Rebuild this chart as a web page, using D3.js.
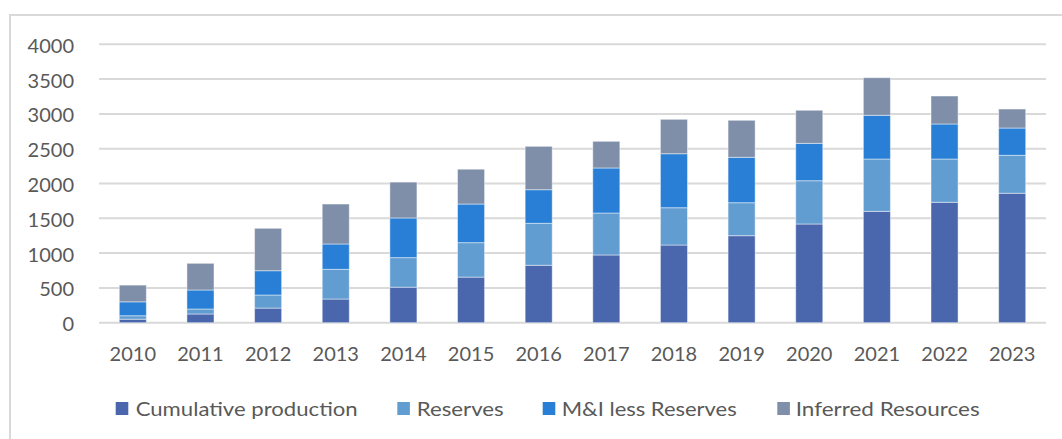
<!DOCTYPE html>
<html>
<head>
<meta charset="utf-8">
<script src="https://cdn.jsdelivr.net/npm/d3@7"></script>
<style>
  body { margin: 0; background: #fff; }
  svg { display: block; font-family: Lato, "Open Sans", sans-serif; }
</style>
</head>
<body>
<svg id="chart" width="1062" height="439"></svg>
<script>
// chart data
const years = ["2010", "2011", "2012", "2013", "2014", "2015", "2016", "2017", "2018", "2019", "2020", "2021", "2022", "2023"];
const cumulative = [50, 125, 210, 340, 510, 655, 825, 973, 1116, 1250, 1418, 1600, 1730, 1860];
const reserves = [50, 72, 188, 427, 425, 495, 603, 603, 536, 474, 622, 752, 622, 545];
const mniLess = [200, 273, 349, 364, 570, 555, 483, 647, 776, 652, 537, 628, 503, 392];
const inferred = [240, 383, 609, 574, 515, 500, 623, 383, 494, 532, 475, 540, 402, 273];
const seriesNames = ["Cumulative production", "Reserves", "M&I less Reserves", "Inferred Resources"];
const yTicks = [0, 500, 1000, 1500, 2000, 2500, 3000, 3500, 4000];

const colors = ["#4a66ac", "#629dd1", "#297fd5", "#7f8fa9"];

let svg = d3.select("#chart");

// outer chart border (only top/left visible in the crop)
svg.append("path")
    .attr("d", "M10,439 V15 H1062")
    .attr("fill", "none")
    .attr("stroke", "#d9d9d9")
    .attr("stroke-width", 2);

let x = d3.scaleBand().domain(years).range([99, 1046]).paddingInner(0.6).paddingOuter(0.3);
let y = d3.scaleLinear().domain([0, 4000]).range([322.7, 44.3]);

// gridlines
svg.append("g")
    .selectAll("line")
    .data(yTicks)
    .enter().append("line")
    .attr("x1", 99).attr("x2", 1046)
    .attr("y1", d => y(d)).attr("y2", d => y(d))
    .attr("stroke", "#d9d9d9")
    .attr("stroke-width", 2);

// y labels
let yAxis = svg.append("g")
    .attr("transform", "translate(74,1.5)")
    .call(d3.axisLeft(y).tickValues(yTicks).tickFormat(d3.format("d")).tickSize(0).tickPadding(0));
yAxis.select(".domain").remove();
yAxis.selectAll("text")
    .attr("fill", "#595959")
    .style("font-size", "20px")
    .style("font-family", "Lato, 'Open Sans', sans-serif");

// x labels
let xAxis = svg.append("g")
    .attr("transform", "translate(0,354)")
    .call(d3.axisBottom(x).tickSize(0).tickPadding(0));
xAxis.select(".domain").remove();
xAxis.selectAll("text")
    .attr("fill", "#595959")
    .attr("dy", "0.35em")
    .style("font-size", "20px")
    .style("font-family", "Lato, 'Open Sans', sans-serif");

// stacked bars
let rows = years.map((yr, i) => ({
    year: yr,
    s0: cumulative[i], s1: reserves[i], s2: mniLess[i], s3: inferred[i]
}));
let stack = d3.stack().keys(["s0", "s1", "s2", "s3"]);
let layers = stack(rows);

svg.append("g")
    .selectAll("g")
    .data(layers)
    .enter().append("g")
    .attr("fill", (d, i) => colors[i])
    .selectAll("rect")
    .data(d => d)
    .enter().append("rect")
    .attr("x", d => x(d.data.year))
    .attr("width", x.bandwidth())
    .attr("y", d => y(d[1]))
    .attr("height", d => y(d[0]) - y(d[1]))
    .attr("stroke", "#ffffff")
    .attr("stroke-opacity", 0.45)
    .attr("stroke-width", 1);

const legendBox = [115.7, 397.3, 542.7, 777.3];
const legendText = [135.7, 416.7, 561.7, 795.7];
const legendWidth = [222, 87, 175, 184];
let legend = svg.append("g")
    .selectAll("g")
    .data(seriesNames)
    .enter().append("g");
legend.append("rect")
    .attr("x", (d, i) => legendBox[i])
    .attr("y", 402)
    .attr("width", 12.6).attr("height", 13)
    .attr("fill", (d, i) => colors[i]);
legend.append("text")
    .attr("x", (d, i) => legendText[i])
    .attr("y", 408.5)
    .attr("dy", "0.35em")
    .attr("textLength", (d, i) => legendWidth[i])
    .attr("lengthAdjust", "spacingAndGlyphs")
    .attr("fill", "#595959")
    .style("font-size", "20px")
    .text(d => d);
</script>
</body>
</html>
